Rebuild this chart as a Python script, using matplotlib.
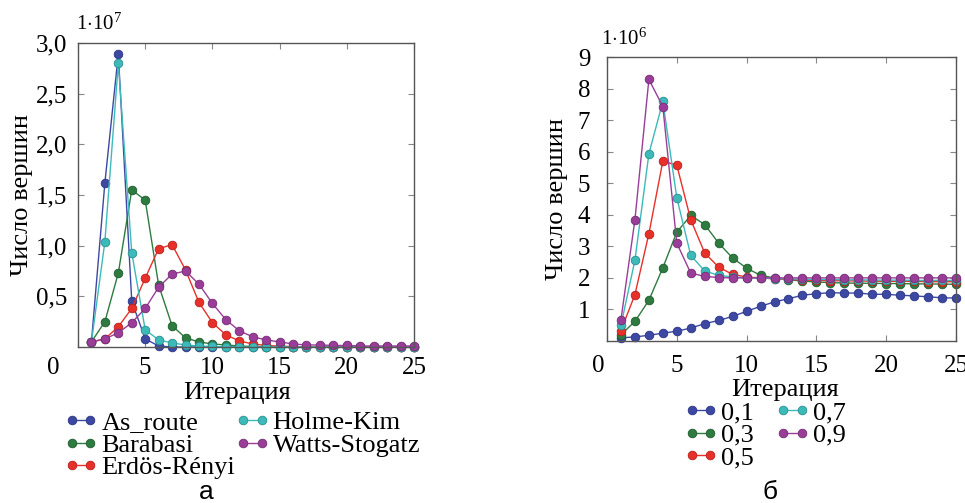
import matplotlib
matplotlib.use("Agg")
import matplotlib.pyplot as plt
from matplotlib.transforms import ScaledTranslation
from matplotlib.font_manager import FontProperties

SERIF = 'Liberation Serif'
SANS = 'Liberation Sans'


def set_rc():
    plt.rcParams['font.family'] = SERIF
    plt.rcParams['mathtext.fontset'] = 'custom'
    plt.rcParams['mathtext.rm'] = 'Liberation Serif'
    plt.rcParams['mathtext.it'] = 'Liberation Serif:italic'
    plt.rcParams['mathtext.bf'] = 'Liberation Serif:bold'


set_rc()

# ---------------- data ----------------
iterations = list(range(1, 26))

# panel a (x 1e7)
as_route = [0.05, 1.62, 2.89, 0.45, 0.08, 0.01, 0.0, 0.0, 0.0, 0.0, 0.0, 0.0, 0.0,
            0.0, 0.0, 0.0, 0.0, 0.0, 0.0, 0.0, 0.0, 0.0, 0.0, 0.0, 0.0]
barabasi = [0.05, 0.25, 0.73, 1.55, 1.45, 0.61, 0.21, 0.09, 0.05, 0.03, 0.02, 0.01, 0.005,
            0.0, 0.0, 0.0, 0.0, 0.0, 0.0, 0.0, 0.0, 0.0, 0.0, 0.0, 0.0]
erdos_renyi = [0.05, 0.08, 0.20, 0.38, 0.68, 0.97, 1.01, 0.76, 0.44, 0.24, 0.12, 0.06, 0.03,
               0.015, 0.008, 0.004, 0.002, 0.0, 0.0, 0.0, 0.0, 0.0, 0.0, 0.0, 0.0]
holme_kim = [0.05, 1.04, 2.80, 0.93, 0.17, 0.07, 0.04, 0.02, 0.01, 0.005, 0.0, 0.0, 0.0,
             0.0, 0.0, 0.0, 0.0, 0.0, 0.0, 0.0, 0.0, 0.0, 0.0, 0.0, 0.0]
watts_stogatz = [0.05, 0.08, 0.14, 0.24, 0.38, 0.59, 0.72, 0.75, 0.62, 0.43, 0.27, 0.16, 0.10,
                 0.07, 0.05, 0.03, 0.02, 0.02, 0.015, 0.015, 0.01, 0.01, 0.01, 0.01, 0.01]
labels_a = ['As_route', 'Barabasi', 'Erdös-Rényi', 'Holme-Kim', 'Watts-Stogatz']
series_a = [as_route, barabasi, erdos_renyi, holme_kim, watts_stogatz]

# panel b (x 1e6)
p01 = [0.10, 0.13, 0.18, 0.25, 0.31, 0.41, 0.55, 0.65, 0.78, 0.94, 1.10, 1.24, 1.34,
       1.45, 1.50, 1.53, 1.52, 1.52, 1.48, 1.48, 1.45, 1.43, 1.40, 1.37, 1.36]
p03 = [0.20, 0.62, 1.29, 2.32, 3.45, 3.98, 3.69, 3.10, 2.63, 2.31, 2.08, 2.00, 1.94,
       1.90, 1.87, 1.85, 1.84, 1.83, 1.83, 1.82, 1.82, 1.81, 1.81, 1.80, 1.80]
p05 = [0.33, 1.47, 3.40, 5.70, 5.57, 3.84, 2.79, 2.34, 2.11, 2.03, 2.00, 1.97, 1.95,
       1.93, 1.92, 1.91, 1.91, 1.90, 1.90, 1.89, 1.89, 1.89, 1.88, 1.88, 1.88]
p07 = [0.50, 2.56, 5.93, 7.59, 4.54, 2.71, 2.22, 2.08, 2.03, 2.00, 1.99, 1.98, 1.97,
       1.96, 1.95, 1.95, 1.94, 1.94, 1.93, 1.93, 1.93, 1.92, 1.92, 1.92, 1.92]
p09 = [0.68, 3.84, 8.29, 7.43, 3.10, 2.15, 2.05, 2.01, 2.00, 2.00, 2.00, 2.00, 2.00,
       2.00, 2.00, 2.00, 2.00, 2.00, 2.00, 2.00, 2.00, 2.00, 2.00, 2.00, 2.00]
labels_b = ['0,1', '0,3', '0,5', '0,7', '0,9']
series_b = [p01, p03, p05, p07, p09]

xticks = [0, 5, 10, 15, 20, 25]
yticks_a = [0.5, 1.0, 1.5, 2.0, 2.5, 3.0]
yticklabels_a = ['0,5', '1,0', '1,5', '2,0', '2,5', '3,0']
yticks_b = [1, 2, 3, 4, 5, 6, 7, 8, 9]

colors = ['#3d48a3', '#2e7b40', '#e8302a', '#3cbaba', '#9a3d99']
edges = ['#2c3585', '#1f5c2e', '#b82018', '#2a8f8f', '#742c74']

# ---------------- figure ----------------
W, H = 965, 503
fig = plt.figure(figsize=(W / 100, H / 100), dpi=100)
set_rc()


def px(x0, y0, x1, y1):
    return [x0 / W, 1 - y1 / H, (x1 - x0) / W, (y1 - y0) / H]


ax_a = fig.add_axes(px(78, 43, 414, 347))
ax_b = fig.add_axes(px(607, 57, 956, 341))

TICK_FS = 18


def style(ax, pad_x, pad_y):
    for s in ax.spines.values():
        s.set_color('#555555')
        s.set_linewidth(1.0)
    ax.tick_params(direction='in', length=4, width=0.8, color='#888888',
                   top=True, right=True, labelsize=TICK_FS)
    ax.tick_params(axis='x', pad=pad_x)
    ax.tick_params(axis='y', pad=pad_y)
    for lab in ax.get_xticklabels() + ax.get_yticklabels():
        lab.set_fontfamily(SERIF)
        lab.set_fontsize(TICK_FS)


handles_a = []
for vals, lab, c, e in zip(series_a, labels_a, colors, edges):
    h, = ax_a.plot(iterations, vals, '-o', color=c, lw=1.0, ms=6.2,
                   mfc=c, mec=e, mew=0.6, label=lab, clip_on=False)
    handles_a.append(h)
ax_a.set_xlim(0, 25)
ax_a.set_ylim(0, 3.0)
ax_a.set_xticks(xticks)
ax_a.set_xticklabels([str(t) for t in xticks])
ax_a.set_yticks(yticks_a)
ax_a.set_yticklabels(yticklabels_a)
style(ax_a, 7, 8)
ax_a.set_ylabel('Число вершин', fontsize=19, labelpad=2, family=SERIF)

handles_b = []
for vals, lab, c, e in zip(series_b, labels_b, colors, edges):
    h, = ax_b.plot(iterations, vals, '-o', color=c, lw=1.0, ms=6.2,
                   mfc=c, mec=e, mew=0.6, label=lab, clip_on=False)
    handles_b.append(h)
ax_b.set_xlim(0, 25)
ax_b.set_ylim(0, 9)
ax_b.set_xticks(xticks)
ax_b.set_xticklabels([str(t) for t in xticks])
ax_b.set_yticks(yticks_b)
ax_b.set_yticklabels([str(t) for t in yticks_b])
style(ax_b, 10, 12)
ax_b.set_ylabel('Число вершин', fontsize=19, labelpad=7, family=SERIF)

# shift the "0" x tick labels left as in the reference
for ax, dx in ((ax_a, -25), (ax_b, -9)):
    lab0 = ax.get_xticklabels()[0]
    lab0.set_transform(lab0.get_transform() + ScaledTranslation(dx / 100, 0, fig.dpi_scale_trans))

# multiplier texts
fig.text(76 / W, 1 - 24 / H, r'$1{\cdot}10^7$', fontsize=15, ha='left', va='center', family=SERIF)
fig.text(601 / W, 1 - 39 / H, r'$1{\cdot}10^6$', fontsize=15, ha='left', va='center', family=SERIF)

# x labels
fig.text(237 / W, 1 - 393 / H, 'Итерация', fontsize=19, ha='center', va='center', family=SERIF)
fig.text(785 / W, 1 - 390 / H, 'Итерация', fontsize=19, ha='center', va='center', family=SERIF)

# legends
leg_kw = dict(frameon=False, numpoints=2, handlelength=1.3,
              handletextpad=0.12, borderpad=0, borderaxespad=0, labelspacing=-0.04)
fig.legend(handles=handles_a, labels=labels_a, ncol=2, loc='upper left',
           prop=FontProperties(family=SERIF, size=19),
           bbox_to_anchor=(64 / W, 1 - 411 / H), columnspacing=0.0, **leg_kw)
fig.legend(handles=handles_b, labels=labels_b, ncol=2, loc='upper left',
           prop=FontProperties(family=SERIF, size=19),
           bbox_to_anchor=(684 / W, 1 - 401 / H), columnspacing=0.8, **leg_kw)

# panel captions
fig.text(206 / W, 1 - 499 / H, 'а', fontsize=19, ha='center', va='baseline', family=SANS)
fig.text(770 / W, 1 - 499 / H, 'б', fontsize=19, ha='center', va='baseline', family=SANS)

fig.savefig('out.png', dpi=100)
